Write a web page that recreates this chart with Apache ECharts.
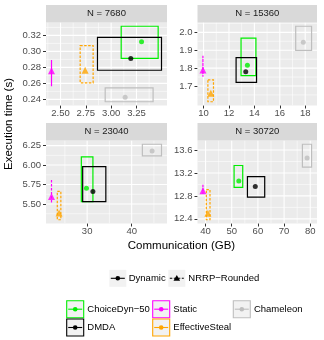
<!DOCTYPE html>
<html><head><meta charset="utf-8">
<script src="https://cdn.jsdelivr.net/npm/echarts@6/dist/echarts.min.js"></script>
<style>html,body{margin:0;padding:0;background:#fff}#c{width:324px;height:340px}</style>
</head><body><div id="c"></div>
<script>
// ---------------- data ----------------
const panelTitles = ['N = 7680', 'N = 15360', 'N = 23040', 'N = 30720'];
const algorithms = ['ChoiceDyn−50', 'DMDA', 'Static', 'EffectiveSteal', 'Chameleon'];
const strategies = ['Dynamic', 'Dynamic', 'NRRP−Rounded', 'NRRP−Rounded', 'Dynamic'];
const strategyNames = ['Dynamic', 'NRRP−Rounded'];

// per panel: [ChoiceDyn-50, DMDA, Static, EffectiveSteal, Chameleon]
const commMean = [
  [3.30, 3.194, 2.411, 2.743, 3.138],
  [13.45, 13.32, 9.95, 10.57, 17.85],
  [29.85, 31.3, 22.0, 23.7, 44.6],
  [52.7, 59.0, 39.0, 40.9, 78.8]
];
const commMin = [
  [3.099, 2.865, 2.411, 2.694, 2.941],
  [12.95, 12.56, 9.95, 10.34, 17.25],
  [28.7, 29.0, 22.0, 23.3, 42.4],
  [50.9, 56.0, 39.0, 40.3, 77.0]
];
const commMax = [
  [3.464, 3.497, 2.411, 2.822, 3.414],
  [14.12, 14.17, 9.95, 10.78, 18.50],
  [31.3, 34.2, 22.0, 24.1, 46.7],
  [54.2, 62.6, 39.0, 41.7, 80.5]
];
const timeMean = [
  [0.312, 0.2912, 0.2756, 0.2764, 0.2425],
  [1.816, 1.779, 1.79, 1.659, 1.944],
  [5.702, 5.659, 5.597, 5.385, 6.18],
  [13.06, 12.966, 12.89, 12.50, 13.46]
];
const timeMin = [
  [0.2912, 0.2764, 0.2565, 0.2607, 0.2370],
  [1.758, 1.720, 1.752, 1.612, 1.899],
  [5.530, 5.530, 5.509, 5.298, 6.118],
  [12.95, 12.78, 12.837, 12.385, 13.30]
];
const timeMax = [
  [0.3314, 0.3175, 0.2891, 0.3073, 0.2544],
  [1.968, 1.859, 1.869, 1.734, 2.034],
  [6.104, 5.98, 5.808, 5.663, 6.267],
  [13.33, 13.136, 12.995, 12.91, 13.70]
];
const xTicks = [[2.5, 2.75, 3.0, 3.25], [10, 12, 14, 16, 18], [30, 40], [40, 50, 60, 70, 80]];
const xTickLabels = [['2.50', '2.75', '3.00', '3.25'], ['10', '12', '14', '16', '18'], ['30', '40'], ['40', '50', '60', '70', '80']];
const yTicks = [[0.24, 0.26, 0.28, 0.30, 0.32], [1.7, 1.8, 1.9, 2.0], [5.5, 5.75, 6.0, 6.25], [12.4, 12.8, 13.2, 13.6]];
const yTickLabels = [['0.24', '0.26', '0.28', '0.30', '0.32'], ['1.7', '1.8', '1.9', '2.0'], ['5.50', '5.75', '6.00', '6.25'], ['12.4', '12.8', '13.2', '13.6']];
const xTitle = 'Communication (GB)';
const yTitle = 'Execution time (s)';

// ---------------- style ----------------
const colors = ['#00EE00', '#000000', '#FF00FF', '#FFA500', '#BEBEBE'];
const FONT = 'Liberation Sans, Arial, sans-serif';
const gridBoxes = [
  {left: 46, top: 22.5, width: 121, height: 83},
  {left: 197.5, top: 22.5, width: 119.5, height: 83},
  {left: 46, top: 140.5, width: 121, height: 83},
  {left: 197.5, top: 140.5, width: 119.5, height: 83}
];
const STRIP_H = 17.5;

function expand(lo, hi) { const d = (hi - lo) * 0.05; return [lo - d, hi + d]; }
function minors(majors, lo, hi) {
  const step = majors[1] - majors[0];
  const b = [majors[0] - step].concat(majors, [majors[majors.length - 1] + step]);
  const out = [];
  for (let i = 0; i < b.length - 1; i++) { const m = (b[i] + b[i + 1]) / 2; if (m >= lo && m <= hi) out.push(m); }
  return out;
}

const grid = [], xAxis = [], yAxis = [], series = [], graphic = [];
panelTitles.forEach((title, p) => {
  const g = gridBoxes[p];
  grid.push(Object.assign({show: true, backgroundColor: '#EBEBEB', borderWidth: 0}, g));
  const xr = expand(Math.min(...commMin[p]), Math.max(...commMax[p]));
  const yr = expand(Math.min(...timeMin[p]), Math.max(...timeMax[p]));
  const xl = {}; xTicks[p].forEach((v, i) => xl[v] = xTickLabels[p][i]);
  const yl = {}; yTicks[p].forEach((v, i) => yl[v] = yTickLabels[p][i]);
  xAxis.push({
    type: 'value', gridIndex: p, min: xr[0], max: xr[1], scale: true,
    axisLine: {show: false}, splitLine: {show: false},
    axisTick: {show: true, length: 3, customValues: xTicks[p], lineStyle: {color: '#333333', width: 1}},
    axisLabel: {customValues: xTicks[p], formatter: v => xl[v] !== undefined ? xl[v] : '', color: '#4D4D4D', fontSize: 9.5, fontFamily: FONT, margin: 3}
  });
  yAxis.push({
    type: 'value', gridIndex: p, min: yr[0], max: yr[1], scale: true,
    axisLine: {show: false}, splitLine: {show: false},
    axisTick: {show: true, length: 3, customValues: yTicks[p], lineStyle: {color: '#333333', width: 1}},
    axisLabel: {customValues: yTicks[p], formatter: v => yl[v] !== undefined ? yl[v] : '', color: '#4D4D4D', fontSize: 9.5, fontFamily: FONT, margin: 5}
  });
  // grid lines
  const gl = [];
  minors(xTicks[p], xr[0], xr[1]).forEach(v => gl.push([v, yr[0], 0, 0]));
  minors(yTicks[p], yr[0], yr[1]).forEach(v => gl.push([xr[0], v, 1, 0]));
  xTicks[p].forEach(v => gl.push([v, yr[0], 0, 1]));
  yTicks[p].forEach(v => gl.push([xr[0], v, 1, 1]));
  series.push({
    type: 'custom', xAxisIndex: p, yAxisIndex: p, z: 1, silent: true, clip: true,
    data: gl,
    renderItem: (params, api) => {
      const cs = params.coordSys;
      const pt = api.coord([api.value(0), api.value(1)]);
      const major = api.value(3) === 1;
      const shape = api.value(2) === 0
        ? {x1: pt[0], y1: cs.y, x2: pt[0], y2: cs.y + cs.height}
        : {x1: cs.x, y1: pt[1], x2: cs.x + cs.width, y2: pt[1]};
      return {type: 'line', shape, style: {stroke: '#FFFFFF', lineWidth: major ? 1.1 : 0.55}};
    }
  });
  // rectangles
  series.push({
    type: 'custom', xAxisIndex: p, yAxisIndex: p, z: 3, silent: true, clip: false,
    data: algorithms.map((a, i) => [commMin[p][i], commMax[p][i], timeMin[p][i], timeMax[p][i], i]),
    renderItem: (params, api) => {
      const i = api.value(4);
      const a = api.coord([api.value(0), api.value(3)]);
      const b = api.coord([api.value(1), api.value(2)]);
      const dashed = strategies[i] !== 'Dynamic';
      return {
        type: 'polygon',
        shape: {points: [[a[0], a[1]], [b[0], a[1]], [b[0], b[1]], [a[0], b[1]]]},
        style: {fill: 'none', stroke: colors[i], lineWidth: 1.2, lineDash: dashed ? [2.5, 1.5] : null}
      };
    }
  });
  // points
  series.push({
    type: 'scatter', xAxisIndex: p, yAxisIndex: p, z: 4, silent: true,
    data: algorithms.map((a, i) => ({
      value: [commMean[p][i], timeMean[p][i]],
      symbol: strategies[i] === 'Dynamic' ? 'circle' : 'triangle',
      symbolSize: strategies[i] === 'Dynamic' ? 5 : 7,
      itemStyle: {color: colors[i]}
    }))
  });
  // strip
  graphic.push({type: 'rect', shape: {x: g.left, y: g.top - STRIP_H, width: g.width, height: STRIP_H}, style: {fill: '#D9D9D9'}, silent: true});
  graphic.push({type: 'text', x: g.left + g.width / 2, y: g.top - STRIP_H / 2, style: {text: title, fill: '#1A1A1A', fontSize: 9.5, fontFamily: FONT, align: 'center', verticalAlign: 'middle'}, silent: true});
});

// axis titles
graphic.push({type: 'text', x: 9, y: 124, rotation: Math.PI / 2, style: {text: yTitle, fill: '#000', fontSize: 11.5, fontFamily: FONT, align: 'center', verticalAlign: 'middle'}, silent: true});
graphic.push({type: 'text', x: 181.5, y: 245.5, style: {text: xTitle, fill: '#000', fontSize: 11.5, fontFamily: FONT, align: 'center', verticalAlign: 'middle'}, silent: true});

// legend 1: strategy (linetype + shape)
const leg1 = [{x: 109.3, text: 128.7}, {x: 168.3, text: 188.3}];
strategyNames.forEach((s, k) => {
  const bx = leg1[k].x, by = 269.8, cy = by + 8.5;
  graphic.push({type: 'rect', shape: {x: bx, y: by, width: 17, height: 17}, style: {fill: '#F2F2F2'}, silent: true});
  graphic.push({type: 'line', shape: {x1: bx + 1.5, y1: cy, x2: bx + 15.5, y2: cy}, style: {stroke: '#000', lineWidth: 1.1, lineDash: k === 1 ? [2.5, 1.5] : null}, silent: true});
  if (k === 0) graphic.push({type: 'circle', shape: {cx: bx + 8.5, cy: cy, r: 2.3}, style: {fill: '#000'}, silent: true});
  else graphic.push({type: 'polygon', shape: {points: [[bx + 8.5, cy - 3.3], [bx + 11.8, cy + 2.4], [bx + 5.2, cy + 2.4]]}, style: {fill: '#000'}, silent: true});
  graphic.push({type: 'text', x: leg1[k].text, y: cy, style: {text: s, fill: '#000', fontSize: 9.5, fontFamily: FONT, verticalAlign: 'middle'}, silent: true});
});

// legend 2: algorithms
const leg2 = [
  {x: 66.7, y: 300.7}, {x: 66.7, y: 319}, {x: 152.7, y: 300.7}, {x: 152.7, y: 319}, {x: 233.3, y: 300.7}
];
algorithms.forEach((a, i) => {
  const bx = leg2[i].x, by = leg2[i].y, cy = by + 8.5;
  graphic.push({type: 'rect', shape: {x: bx, y: by, width: 17, height: 17}, style: {fill: '#F2F2F2', stroke: colors[i], lineWidth: 1.1}, silent: true});
  graphic.push({type: 'line', shape: {x1: bx + 1.5, y1: cy, x2: bx + 15.5, y2: cy}, style: {stroke: colors[i], lineWidth: 1.1}, silent: true});
  graphic.push({type: 'circle', shape: {cx: bx + 8.5, cy: cy, r: 2.3}, style: {fill: colors[i]}, silent: true});
  graphic.push({type: 'text', x: bx + 20.6, y: cy, style: {text: a, fill: '#000', fontSize: 9.5, fontFamily: FONT, verticalAlign: 'middle'}, silent: true});
});

const chart = echarts.init(document.getElementById('c'), null, {renderer: 'canvas'});
chart.setOption({animation: false, backgroundColor: '#FFFFFF', grid, xAxis, yAxis, series, graphic});
</script></body></html>
